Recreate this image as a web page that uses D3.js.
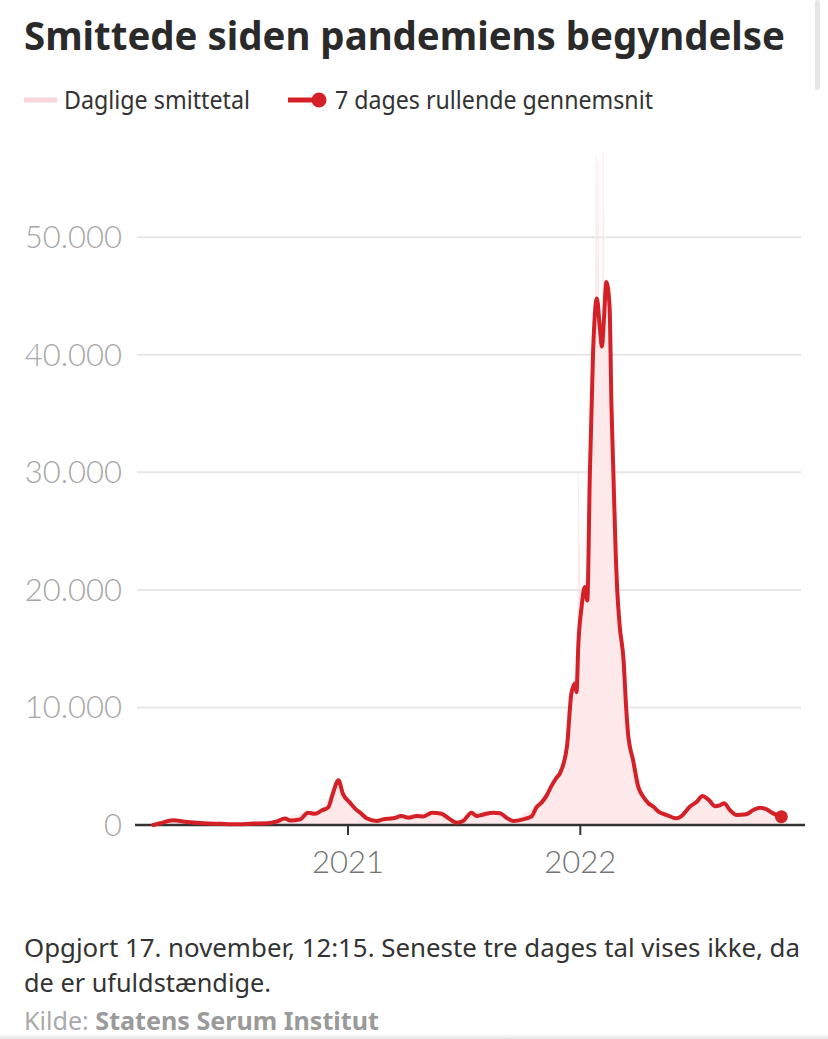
<!DOCTYPE html>
<html>
<head>
<meta charset="utf-8">
<script src="https://cdn.jsdelivr.net/npm/d3@7"></script>
<style>
  html, body { margin: 0; padding: 0; background: #fff; }
  svg { display: block; }
</style>
</head>
<body>
<svg id="chart" width="828" height="1039"></svg>
<script>
// 7 dages rullende gennemsnit
const avgDates = [
  "2020-03-01","2020-03-12","2020-04-01","2020-04-23","2020-05-18","2020-06-14","2020-07-10",
  "2020-08-05","2020-08-27","2020-09-11","2020-09-24","2020-10-02","2020-10-18","2020-10-30",
  "2020-11-10","2020-11-21","2020-12-01","2020-12-08","2020-12-17","2020-12-24","2021-01-04",
  "2021-01-15","2021-01-20","2021-01-30","2021-02-15","2021-02-25","2021-03-13","2021-03-26",
  "2021-04-06","2021-04-19","2021-04-29","2021-05-13","2021-05-28","2021-06-08","2021-06-21",
  "2021-07-01","2021-07-14","2021-07-22","2021-08-02","2021-08-17","2021-08-28","2021-09-07",
  "2021-09-18","2021-10-03","2021-10-17","2021-10-24","2021-11-01","2021-11-09","2021-11-17",
  "2021-11-25","2021-11-30","2021-12-11","2021-12-18","2021-12-24","2021-12-26","2021-12-29",
  "2022-01-03","2022-01-08","2022-01-12","2022-01-16","2022-01-21","2022-01-27","2022-02-01",
  "2022-02-04","2022-02-07","2022-02-11","2022-02-16","2022-02-19","2022-02-22","2022-02-26",
  "2022-02-28","2022-03-04","2022-03-10","2022-03-14","2022-03-17","2022-03-25","2022-04-02",
  "2022-04-10","2022-04-18","2022-04-26","2022-05-04","2022-05-17","2022-06-01","2022-06-09",
  "2022-06-22","2022-07-03","2022-07-12","2022-07-21","2022-08-01","2022-08-09","2022-08-15",
  "2022-08-24","2022-09-04","2022-09-19","2022-09-30","2022-10-10","2022-10-21","2022-10-31",
  "2022-11-13"
];
const avgValues = [
  0, 150, 400, 250, 150, 100, 60,
  120, 150, 300, 550, 380, 480, 1050,
  950, 1250, 1500, 2650, 3800, 2650, 1900,
  1250, 1050, 580, 350, 480, 570, 760,
  620, 760, 720, 1050, 960, 570, 200,
  340, 1050, 760, 900, 1050, 1000, 620,
  340, 480, 760, 1500, 1900, 2500, 3350,
  4050, 4400, 6650, 11200, 12050, 11300, 15450,
  18550, 20250, 19100, 29900, 40100, 44800, 42100,
  40700, 42900, 46200, 44100, 35600, 29900, 22500,
  20000, 16900, 14000, 10000, 7800, 5500, 3250,
  2400, 1850, 1550, 1130, 850, 570, 760,
  1550, 1980, 2460, 2180, 1600, 1700, 1850,
  1280, 850, 910, 1280, 1470, 1330, 990,
  700
];

// Daglige smittetal (mostly hidden under the average, spikes near the peak)
const dailyDates = [
  "2020-03-01","2020-04-01","2020-05-18","2020-07-10","2020-08-27","2020-09-24","2020-10-30",
  "2020-11-21","2020-12-08","2020-12-17","2020-12-24","2021-01-04","2021-01-20","2021-02-15",
  "2021-03-26","2021-05-13","2021-06-21","2021-07-14","2021-08-17","2021-09-18","2021-10-24",
  "2021-11-17","2021-11-30","2021-12-11","2021-12-18","2021-12-24","2021-12-28","2021-12-29",
  "2021-12-30","2021-12-31","2022-01-01","2022-01-03","2022-01-08","2022-01-12","2022-01-16",
  "2022-01-21","2022-01-25","2022-01-26","2022-01-27","2022-01-28","2022-01-29","2022-01-30",
  "2022-02-01","2022-02-04","2022-02-05","2022-02-06","2022-02-07","2022-02-11","2022-02-16",
  "2022-02-19","2022-02-22","2022-02-26","2022-03-04","2022-03-10","2022-03-17","2022-03-25",
  "2022-04-10","2022-05-04","2022-06-01","2022-07-12","2022-08-01","2022-08-15","2022-09-04",
  "2022-10-10","2022-10-31","2022-11-13"
];
const dailyValues = [
  0, 420, 160, 70, 160, 580, 1100,
  1300, 2800, 4000, 2700, 2000, 1100, 380,
  800, 1100, 230, 1100, 1100, 360, 1600,
  3500, 4600, 7000, 11600, 12500, 14000, 30000,
  16500, 24000, 17500, 19000, 21000, 19800, 31000,
  41000, 45500, 57000, 44000, 42500, 56500, 40500,
  42500, 41000, 43500, 57200, 43500, 46500, 44500,
  36000, 30500, 23000, 17500, 14500, 8200, 5800,
  2600, 1200, 600, 2600, 1700, 1950, 900,
  1550, 1050, 720
];

const yTicks = [0, 10000, 20000, 30000, 40000, 50000];
const xTickYears = ["2021-01-01", "2022-01-01"];

const parse = d3.timeParse("%Y-%m-%d");
const avg = avgDates.map((d, i) => ({ date: parse(d), value: avgValues[i] }));
const daily = dailyDates.map((d, i) => ({ date: parse(d), value: dailyValues[i] }));

const svg = d3.select("#chart");

const x = d3.scaleTime()
  .domain([parse("2020-03-01"), parse("2022-11-13")])
  .range([153.3, 781.4]);
const y = d3.scaleLinear()
  .domain([0, 57000])
  .range([825, 155]);

// scrollbar hint on the right
svg.append("rect")
  .attr("x", 815).attr("y", 0).attr("width", 5).attr("height", 90)
  .attr("rx", 2.5).attr("fill", "#e6e6e6");

// title
svg.append("text")
  .attr("x", 24).attr("y", 50)
  .attr("font-family", "'Noto Sans', sans-serif")
  .attr("font-weight", 700)
  .attr("font-size", 40)
  .attr("fill", "#2a2a2a")
  .attr("textLength", 761)
  .attr("lengthAdjust", "spacingAndGlyphs")
  .text("Smittede siden pandemiens begyndelse");

// legend
const legend = svg.append("g")
  .attr("font-family", "'Noto Sans', sans-serif")
  .attr("font-size", 25)
  .attr("fill", "#333");

legend.append("line")
  .attr("x1", 24).attr("x2", 57).attr("y1", 100).attr("y2", 100)
  .attr("stroke", "#f8d5d8").attr("stroke-width", 5);
legend.append("text")
  .attr("x", 64).attr("y", 109)
  .attr("textLength", 186).attr("lengthAdjust", "spacingAndGlyphs")
  .text("Daglige smittetal");

legend.append("line")
  .attr("x1", 288).attr("x2", 318).attr("y1", 100).attr("y2", 100)
  .attr("stroke", "#d42127").attr("stroke-width", 5);
legend.append("circle")
  .attr("cx", 319).attr("cy", 100).attr("r", 7.5)
  .attr("fill", "#d42127");
legend.append("text")
  .attr("x", 335).attr("y", 109)
  .attr("textLength", 318).attr("lengthAdjust", "spacingAndGlyphs")
  .text("7 dages rullende gennemsnit");

// gridlines + y labels
const grid = svg.append("g");
grid.selectAll("line")
  .data(yTicks.filter(d => d > 0))
  .join("line")
  .attr("x1", 137).attr("x2", 801)
  .attr("y1", d => y(d)).attr("y2", d => y(d))
  .attr("stroke", "#e6e6e6").attr("stroke-width", 2);

const fmt = d3.formatLocale({ decimal: ",", thousands: ".", grouping: [3], currency: ["", " kr."] }).format(",d");
grid.selectAll("text")
  .data(yTicks)
  .join("text")
  .attr("x", 122)
  .attr("y", d => y(d) + 11)
  .attr("text-anchor", "end")
  .attr("font-family", "Lato, 'Open Sans', sans-serif")
  .attr("font-weight", 300)
  .attr("font-size", 31)
  .attr("fill", "#a6a6a6")
  .text(d => fmt(d));

// daily area
const area = d3.area()
  .x(d => x(d.date))
  .y0(y(0))
  .y1(d => y(d.value));
svg.append("path")
  .datum(daily)
  .attr("d", area)
  .attr("fill", "#fde8ea")
  .attr("stroke", "#fbe0e3")
  .attr("stroke-width", 0.4);

// x axis
const xAxis = svg.append("g")
  .attr("transform", `translate(0,${y(0)})`);
xAxis.append("line")
  .attr("x1", 135).attr("x2", 805)
  .attr("stroke", "#333").attr("stroke-width", 2.5);
const ticks = xAxis.selectAll("g.tick")
  .data(xTickYears.map(parse))
  .join("g")
  .attr("class", "tick")
  .attr("transform", d => `translate(${x(d)},0)`);
ticks.append("line")
  .attr("y1", 0).attr("y2", 10)
  .attr("stroke", "#333").attr("stroke-width", 2);
ticks.append("text")
  .attr("y", 48)
  .attr("text-anchor", "middle")
  .attr("font-family", "Lato, 'Open Sans', sans-serif")
  .attr("font-weight", 300)
  .attr("font-size", 31)
  .attr("fill", "#737373")
  .text(d => d3.timeFormat("%Y")(d));

// rolling average line
const line = d3.line()
  .x(d => x(d.date))
  .y(d => y(d.value))
  .curve(d3.curveMonotoneX);
svg.append("path")
  .datum(avg)
  .attr("d", line)
  .attr("fill", "none")
  .attr("stroke", "#d42127")
  .attr("stroke-width", 4)
  .attr("stroke-linejoin", "round")
  .attr("stroke-linecap", "round");

const last = avg[avg.length - 1];
svg.append("circle")
  .attr("cx", x(last.date)).attr("cy", y(last.value))
  .attr("r", 6.5)
  .attr("fill", "#d42127");

// footer
const foot = svg.append("g")
  .attr("font-family", "'Noto Sans', sans-serif")
  .attr("font-size", 25)
  .attr("fill", "#333");
foot.append("text")
  .attr("x", 24).attr("y", 957)
  .attr("textLength", 776).attr("lengthAdjust", "spacingAndGlyphs")
  .text("Opgjort 17. november, 12:15. Seneste tre dages tal vises ikke, da");
foot.append("text")
  .attr("x", 24).attr("y", 992)
  .attr("textLength", 247).attr("lengthAdjust", "spacingAndGlyphs")
  .text("de er ufuldstændige.");

const src = foot.append("text")
  .attr("x", 24).attr("y", 1030)
  .attr("font-size", 25)
  .attr("fill", "#aaa")
  .attr("textLength", 355).attr("lengthAdjust", "spacingAndGlyphs");
src.append("tspan").text("Kilde: ");
src.append("tspan").attr("font-weight", 700).attr("fill", "#9a9a9a").text("Statens Serum Institut");

// bottom fade
const defs = svg.append("defs");
const grad = defs.append("linearGradient")
  .attr("id", "fade").attr("x1", 0).attr("x2", 0).attr("y1", 0).attr("y2", 1);
grad.append("stop").attr("offset", 0).attr("stop-color", "#fff").attr("stop-opacity", 0);
grad.append("stop").attr("offset", 1).attr("stop-color", "#d0d0d0").attr("stop-opacity", 0.7);
svg.append("rect")
  .attr("x", 0).attr("y", 1033).attr("width", 828).attr("height", 6)
  .attr("fill", "url(#fade)");
</script>
</body>
</html>
